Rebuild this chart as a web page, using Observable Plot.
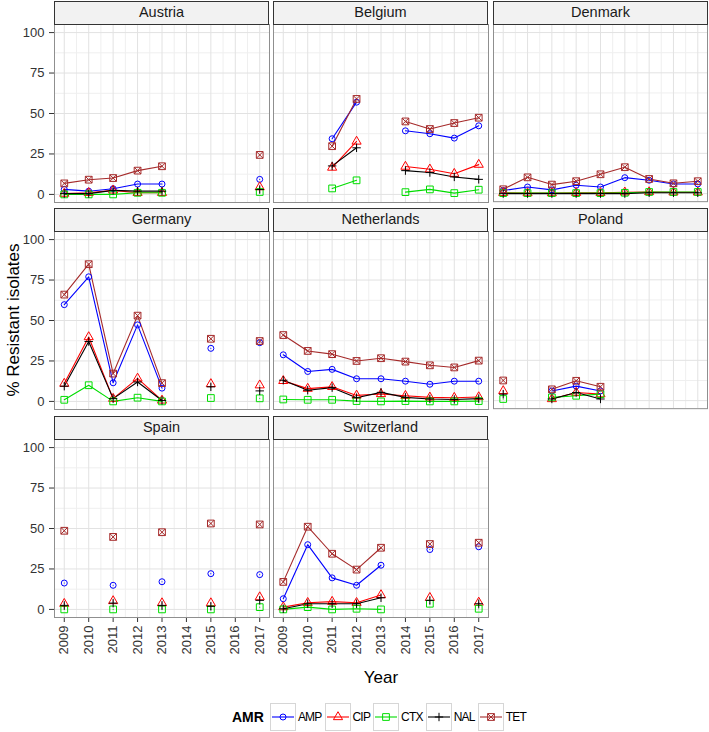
<!DOCTYPE html>
<html><head><meta charset="utf-8">
<script src="https://cdn.jsdelivr.net/npm/d3@7"></script>
<script src="https://cdn.jsdelivr.net/npm/@observablehq/plot@0.6"></script>
<style>
body{margin:0;background:#fff;font-family:"Liberation Sans",Arial,sans-serif;}
#root{position:relative;width:709px;height:732px;overflow:hidden;background:#fff;}
.strip{position:absolute;box-sizing:border-box;border:1px solid #333;background:#F2F2F2;text-align:center;font-size:14.5px;color:#1a1a1a;line-height:21px;}
.panel{position:absolute;}
.panel svg{overflow:visible;background:transparent;}
.ytitle{position:absolute;left:14px;top:320px;transform:translate(-50%,-50%) rotate(-90deg);white-space:nowrap;font-size:17px;color:#000;}
.xtitle{position:absolute;left:381px;top:678px;transform:translate(-50%,-50%);font-size:17px;color:#000;}
.legend{position:absolute;left:232px;top:703px;height:28px;display:flex;align-items:center;font-size:12px;color:#000;}
.legend .ttl{font-weight:bold;font-size:14px;margin-right:6px;}
.legend .lab{margin:0 3px 0 2px;letter-spacing:-0.8px;}
.legend svg{display:block;}
</style></head><body><div id="root"></div>
<script>
const countries = ["Austria","Belgium","Denmark","Germany","Netherlands","Poland","Spain","Switzerland"];
const years = [2009,2010,2011,2012,2013,2014,2015,2016,2017];
const yTicks = [0,25,50,75,100];
const amrNames = ["AMP","CIP","CTX","NAL","TET"];
const amrColors = ["#0000FF","#FF0000","#00DD00","#000000","#A52A2A"];
const _ = null;
// rows follow `countries`, columns follow `years`
const AMP = [
  [3.1,2,3.5,6.4,6.4,_,_,_,9.3],
  [_,_,34.4,57,_,39.3,37.5,34.8,42.4],
  [1.9,4.1,2.3,5.2,4.1,9.9,8.3,6,6],
  [59.8,77,11.5,47.3,8.2,_,32.8,_,36.3],
  [28.8,18.5,19.8,14,14,12.5,10.6,12.5,12.5],
  [_,_,6,9,6,_,_,_,_],
  [16.3,_,14.9,_,17.1,_,22.1,_,21.5],
  [6.6,40,19.5,14.9,27.3,_,37,_,38.7]
];
const CIP = [
  [0.5,1,2.5,1,1,_,_,_,4.5],
  [_,_,16.6,32.7,_,17.2,15.5,12.8,18.4],
  [0.5,0.3,0.3,0.5,0.5,0.8,1,0.8,0.8],
  [11,39.8,1.7,14.2,0.6,_,10.8,_,10],
  [12.7,7.9,9,3.7,4.6,3.5,2.5,2.3,2.7],
  [6,_,1,5,4,_,_,_,_],
  [3.5,_,5.2,_,3.9,_,3.9,_,7.6],
  [1.4,4.1,4.8,4.1,8.9,_,7.2,_,4.3]
];
const CTX = [
  [0,0,0,1,1,_,_,_,1.5],
  [_,_,3.7,8.7,_,1.4,3.1,0.8,2.9],
  [0.3,0.3,0.3,0.3,0.3,0.5,1,1,1],
  [1,10,0,2.3,0,_,2.1,_,1.9],
  [1.2,1,1,0.2,0,0.2,0,0,0.2],
  [1,_,2,3,4,_,_,_,_],
  [0,_,0,_,0,_,0,_,1.4],
  [0,1.4,0,0.4,0,_,3.5,_,0.4]
];
const NAL = [
  [0.5,0.5,2.5,2,2,_,_,_,3],
  [_,_,17.6,28.8,_,14.7,13.5,10.8,9.3],
  [0,0,0,0,0,0,0.5,0.5,0.5],
  [9.4,37,1.7,12,0.6,_,9,_,6.5],
  [13.1,6.9,8.5,2.3,5.6,2.5,1.5,1.2,1.7],
  [4,_,1,5,1,_,_,_,_],
  [2.5,_,3.9,_,2.5,_,1.9,_,5.6],
  [0.4,3.5,3.5,3.5,7.2,_,5.6,_,3.5]
];
const TET = [
  [6.8,9.1,10.1,14.7,17.4,_,_,_,24.4],
  [_,_,29.8,59,_,45.1,40.4,44.1,47.4],
  [2.7,10.1,5.6,7.7,12,16.4,9.1,6.4,7.7],
  [66,84.8,17.2,53,11.3,_,38.7,_,37.3],
  [41,31.2,29.2,25,26.7,24.6,22.3,21,25.2],
  [12.5,_,7,12.3,8.6,_,_,_,_],
  [48.6,_,44.8,_,47.7,_,53.1,_,52.5],
  [17,51.1,34.4,24.6,38.1,_,40.4,_,41.2]
];
const seriesData = [AMP, CIP, CTX, NAL, TET];

const squareCross = {
  draw(ctx, size) {
    const w = Math.sqrt(size) / 2;
    ctx.moveTo(-w, -w); ctx.lineTo(w, -w); ctx.lineTo(w, w); ctx.lineTo(-w, w); ctx.closePath();
    ctx.moveTo(-w, -w); ctx.lineTo(w, w);
    ctx.moveTo(w, -w); ctx.lineTo(-w, w);
  }
};
const plusSym = {
  draw(ctx, size) {
    const r = Math.sqrt(size / Math.PI);
    ctx.moveTo(-r, 0); ctx.lineTo(r, 0);
    ctx.moveTo(0, -r); ctx.lineTo(0, r);
  }
};
const symbols = ["circle", "triangle", "square", plusSym, squareCross];
const radii = [3, 3.4, 3.8, 4.2, 3.8];
const d3Symbols = [d3.symbolCircle, d3.symbolTriangle, d3.symbolSquare, plusSym, squareCross];

const colLeft = [54, 273, 493];
const panelW = 215;
const stripTop = [1, 208, 416];
const stripH = 23;
const plotH = 178;
const minorX = years.slice(0, -1).map(y => y + 0.5);
const minorY = yTicks.slice(0, -1).map(v => v + 12.5);

const root = document.getElementById("root");

countries.forEach((country, ci) => {
  const row = Math.floor(ci / 3), col = ci % 3;
  const bottom = row === 2;
  const mL = col === 0 ? 54 : 2, mR = 2, mT = 2, mB = bottom ? 60 : 2;
  const tables = seriesData.map(S => years.map((yr, i) => ({year: yr, value: S[ci][i]})));
  const lines = tables.map((t, si) => Plot.line(t, {x: "year", y: "value", stroke: amrColors[si], strokeWidth: 1.1}));
  const dots = tables.map((t, si) => Plot.dot(t.filter(d => d.value != null), {
    x: "year", y: "value", symbol: symbols[si], r: radii[si], stroke: amrColors[si], fill: "none", strokeWidth: 1
  }));
  const chart = Plot.plot({
    width: mL + panelW + mR,
    height: mT + plotH + mB,
    marginLeft: mL, marginRight: mR, marginTop: mT, marginBottom: mB,
    style: {fontFamily: "'Liberation Sans', Arial, sans-serif", fontSize: "13px", color: "#333", background: "transparent", overflow: "visible"},
    x: {domain: [2008.6, 2017.4], axis: bottom ? "bottom" : null, ticks: years, tickFormat: d => String(d), tickRotate: -90, tickSize: 5, tickPadding: 3, label: null},
    y: {domain: [-5, 105], axis: col === 0 ? "left" : null, ticks: yTicks, tickSize: 5, tickPadding: 5, label: null},
    marks: [
      Plot.ruleX(minorX, {stroke: "#EFEFEF", strokeWidth: 1}),
      Plot.ruleY(minorY, {stroke: "#EFEFEF", strokeWidth: 1}),
      Plot.ruleX(years, {stroke: "#E2E2E2", strokeWidth: 1}),
      Plot.ruleY(yTicks, {stroke: "#E2E2E2", strokeWidth: 1}),
      ...lines,
      ...dots,
      Plot.frame({stroke: "#8F8F8F", strokeWidth: 1})
    ]
  });
  const wrap = document.createElement("div");
  wrap.className = "panel";
  wrap.style.left = (colLeft[col] - mL) + "px";
  wrap.style.top = (stripTop[row] + stripH - mT) + "px";
  wrap.appendChild(chart);
  root.appendChild(wrap);

  const strip = document.createElement("div");
  strip.className = "strip";
  strip.style.left = colLeft[col] + "px";
  strip.style.top = stripTop[row] + "px";
  strip.style.width = panelW + "px";
  strip.style.height = (stripH + 1) + "px";
  strip.textContent = country;
  root.appendChild(strip);
});

const yt = document.createElement("div");
yt.className = "ytitle"; yt.textContent = "% Resistant isolates";
root.appendChild(yt);
const xt = document.createElement("div");
xt.className = "xtitle"; xt.textContent = "Year";
root.appendChild(xt);

const leg = document.createElement("div");
leg.className = "legend";
const ttl = document.createElement("span");
ttl.className = "ttl"; ttl.textContent = "AMR";
leg.appendChild(ttl);
amrNames.forEach((name, si) => {
  const svg = d3.create("svg").attr("width", 26).attr("height", 28);
  svg.append("rect").attr("x", 0.5).attr("y", 0.5).attr("width", 25).attr("height", 27)
    .attr("fill", "#fff").attr("stroke", "#D6D6D6");
  svg.append("line").attr("x1", 2).attr("x2", 24).attr("y1", 14).attr("y2", 14)
    .attr("stroke", amrColors[si]).attr("stroke-width", 1.1);
  svg.append("path").attr("transform", "translate(13,14)")
    .attr("d", d3.symbol(d3Symbols[si], radii[si] * radii[si] * Math.PI)())
    .attr("fill", "none").attr("stroke", amrColors[si]);
  leg.appendChild(svg.node());
  const lab = document.createElement("span");
  lab.className = "lab"; lab.textContent = name;
  leg.appendChild(lab);
});
root.appendChild(leg);
</script>
</body></html>
